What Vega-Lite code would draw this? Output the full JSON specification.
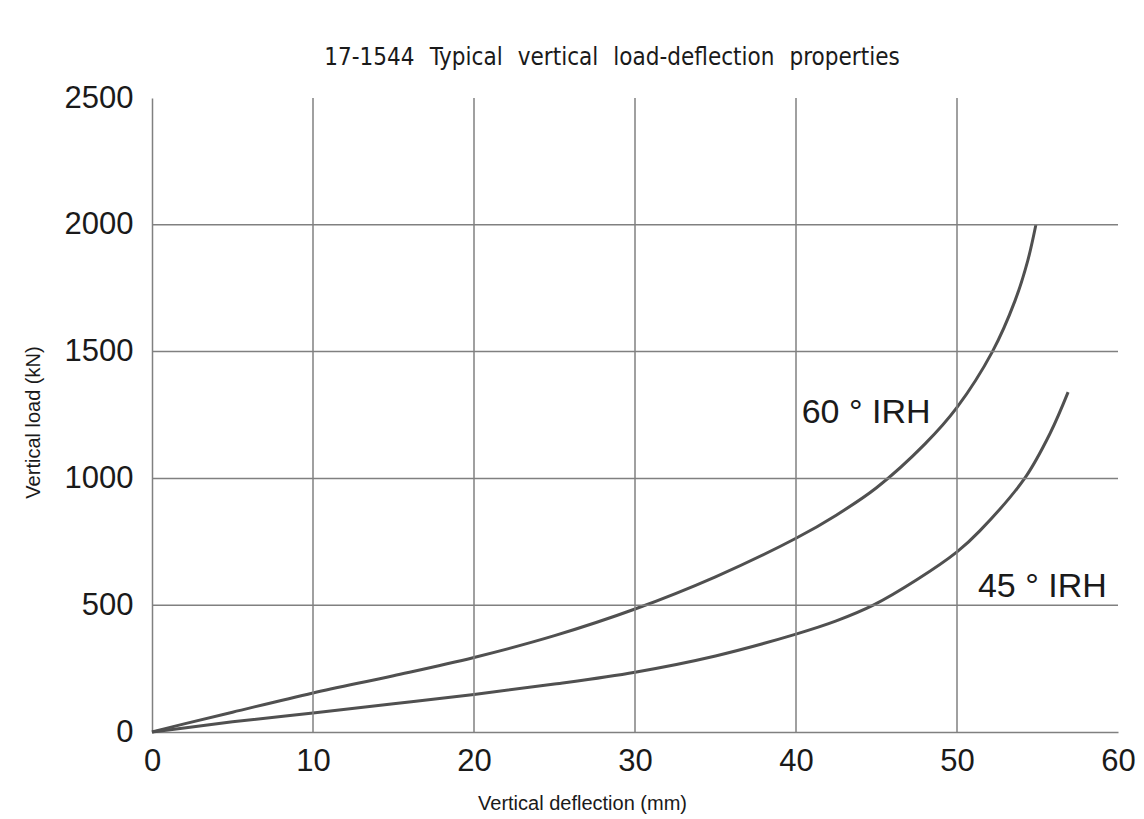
{
  "$schema": "https://vega.github.io/schema/vega-lite/v6.json",
  "width": 966,
  "height": 634,
  "autosize": {"type": "none"},
  "padding": {"left": 152, "top": 98, "right": 26, "bottom": 87},
  "background": "white",
  "config": {
    "view": {"stroke": null},
    "font": "Liberation Sans",
    "axis": {
      "grid": false,
      "ticks": false,
      "domainColor": "#808080",
      "domainWidth": 1.5,
      "labelFontSize": 31,
      "labelColor": "#1a1a1a",
      "labelFlush": false,
      "titleFontSize": 20,
      "titleFontWeight": "normal",
      "titleColor": "#1a1a1a"
    },
    "axisX": {"labelPadding": 14, "titleX": 430, "titleY": 77, "titleBaseline": "alphabetic"},
    "axisY": {"labelPadding": 19, "titleX": -109, "titleY": 324, "titleBaseline": "bottom"}
  },
  "title": {
    "text": "17-1544\u2002\u2009Typical\u2002\u2009vertical\u2002\u2009load-deflection\u2002\u2009properties",
    "font": "DejaVu Sans Condensed, Liberation Sans",
    "fontSize": 24,
    "fontWeight": "normal",
    "color": "#1a1a1a",
    "offset": 12,
    "dx": -23
  },
  "datasets": {
    "vgrid": [{"x": 10}, {"x": 20}, {"x": 30}, {"x": 40}, {"x": 50}],
    "hgrid": [{"y": 500}, {"y": 1000}, {"y": 1500}, {"y": 2000}],
    "curves": [
      {"series": "60", "deflection": 0, "load": 0},
      {"series": "60", "deflection": 2, "load": 32},
      {"series": "60", "deflection": 5, "load": 78},
      {"series": "60", "deflection": 10, "load": 154},
      {"series": "60", "deflection": 15, "load": 222},
      {"series": "60", "deflection": 20, "load": 294},
      {"series": "60", "deflection": 25, "load": 380},
      {"series": "60", "deflection": 30, "load": 485},
      {"series": "60", "deflection": 35, "load": 612},
      {"series": "60", "deflection": 40, "load": 764},
      {"series": "60", "deflection": 42.5, "load": 855},
      {"series": "60", "deflection": 45, "load": 963},
      {"series": "60", "deflection": 48, "load": 1135},
      {"series": "60", "deflection": 50, "load": 1280},
      {"series": "60", "deflection": 52.2, "load": 1500},
      {"series": "60", "deflection": 53.6, "load": 1700},
      {"series": "60", "deflection": 54.4, "load": 1860},
      {"series": "60", "deflection": 54.9, "load": 2000},
      {"series": "45", "deflection": 0, "load": 0},
      {"series": "45", "deflection": 2, "load": 16},
      {"series": "45", "deflection": 5, "load": 40},
      {"series": "45", "deflection": 10, "load": 75},
      {"series": "45", "deflection": 15, "load": 111},
      {"series": "45", "deflection": 20, "load": 148},
      {"series": "45", "deflection": 25, "load": 189},
      {"series": "45", "deflection": 30, "load": 236},
      {"series": "45", "deflection": 35, "load": 300},
      {"series": "45", "deflection": 40, "load": 386},
      {"series": "45", "deflection": 42.5, "load": 438},
      {"series": "45", "deflection": 44.8, "load": 500},
      {"series": "45", "deflection": 47.5, "load": 600},
      {"series": "45", "deflection": 50, "load": 710},
      {"series": "45", "deflection": 51.4, "load": 792},
      {"series": "45", "deflection": 54.2, "load": 1000},
      {"series": "45", "deflection": 55.8, "load": 1180},
      {"series": "45", "deflection": 56.9, "load": 1340}
    ],
    "labels": [
      {"label": "60 ° IRH", "deflection": 40.35, "load": 1218},
      {"label": "45 ° IRH", "deflection": 51.3, "load": 534}
    ]
  },
  "layer": [
    {
      "data": {"name": "curves"},
      "mark": {"type": "line", "interpolate": "catmull-rom", "color": "#505050", "strokeWidth": 3},
      "encoding": {
        "x": {
          "field": "deflection",
          "type": "quantitative",
          "scale": {"domain": [0, 60], "nice": false, "zero": true},
          "axis": {"title": "Vertical deflection (mm)", "values": [0, 10, 20, 30, 40, 50, 60]}
        },
        "y": {
          "field": "load",
          "type": "quantitative",
          "scale": {"domain": [0, 2500], "nice": false},
          "axis": {"title": "Vertical load (kN)", "values": [0, 500, 1000, 1500, 2000, 2500], "format": "d"}
        },
        "detail": {"field": "series"}
      }
    },
    {
      "data": {"name": "vgrid"},
      "mark": {"type": "rule", "color": "#808080", "strokeWidth": 1.5},
      "encoding": {"x": {"field": "x", "type": "quantitative", "axis": {"title": "Vertical deflection (mm)", "values": [0, 10, 20, 30, 40, 50, 60]}}}
    },
    {
      "data": {"name": "hgrid"},
      "mark": {"type": "rule", "color": "#808080", "strokeWidth": 1.5},
      "encoding": {"y": {"field": "y", "type": "quantitative", "axis": {"title": "Vertical load (kN)", "values": [0, 500, 1000, 1500, 2000, 2500], "format": "d"}}}
    },
    {
      "data": {"name": "labels"},
      "mark": {"type": "text", "align": "left", "baseline": "alphabetic", "fontSize": 34, "color": "#1a1a1a"},
      "encoding": {
        "x": {"field": "deflection", "type": "quantitative", "axis": {"title": "Vertical deflection (mm)", "values": [0, 10, 20, 30, 40, 50, 60]}},
        "y": {"field": "load", "type": "quantitative", "axis": {"title": "Vertical load (kN)", "values": [0, 500, 1000, 1500, 2000, 2500], "format": "d"}},
        "text": {"field": "label"}
      }
    }
  ]
}
